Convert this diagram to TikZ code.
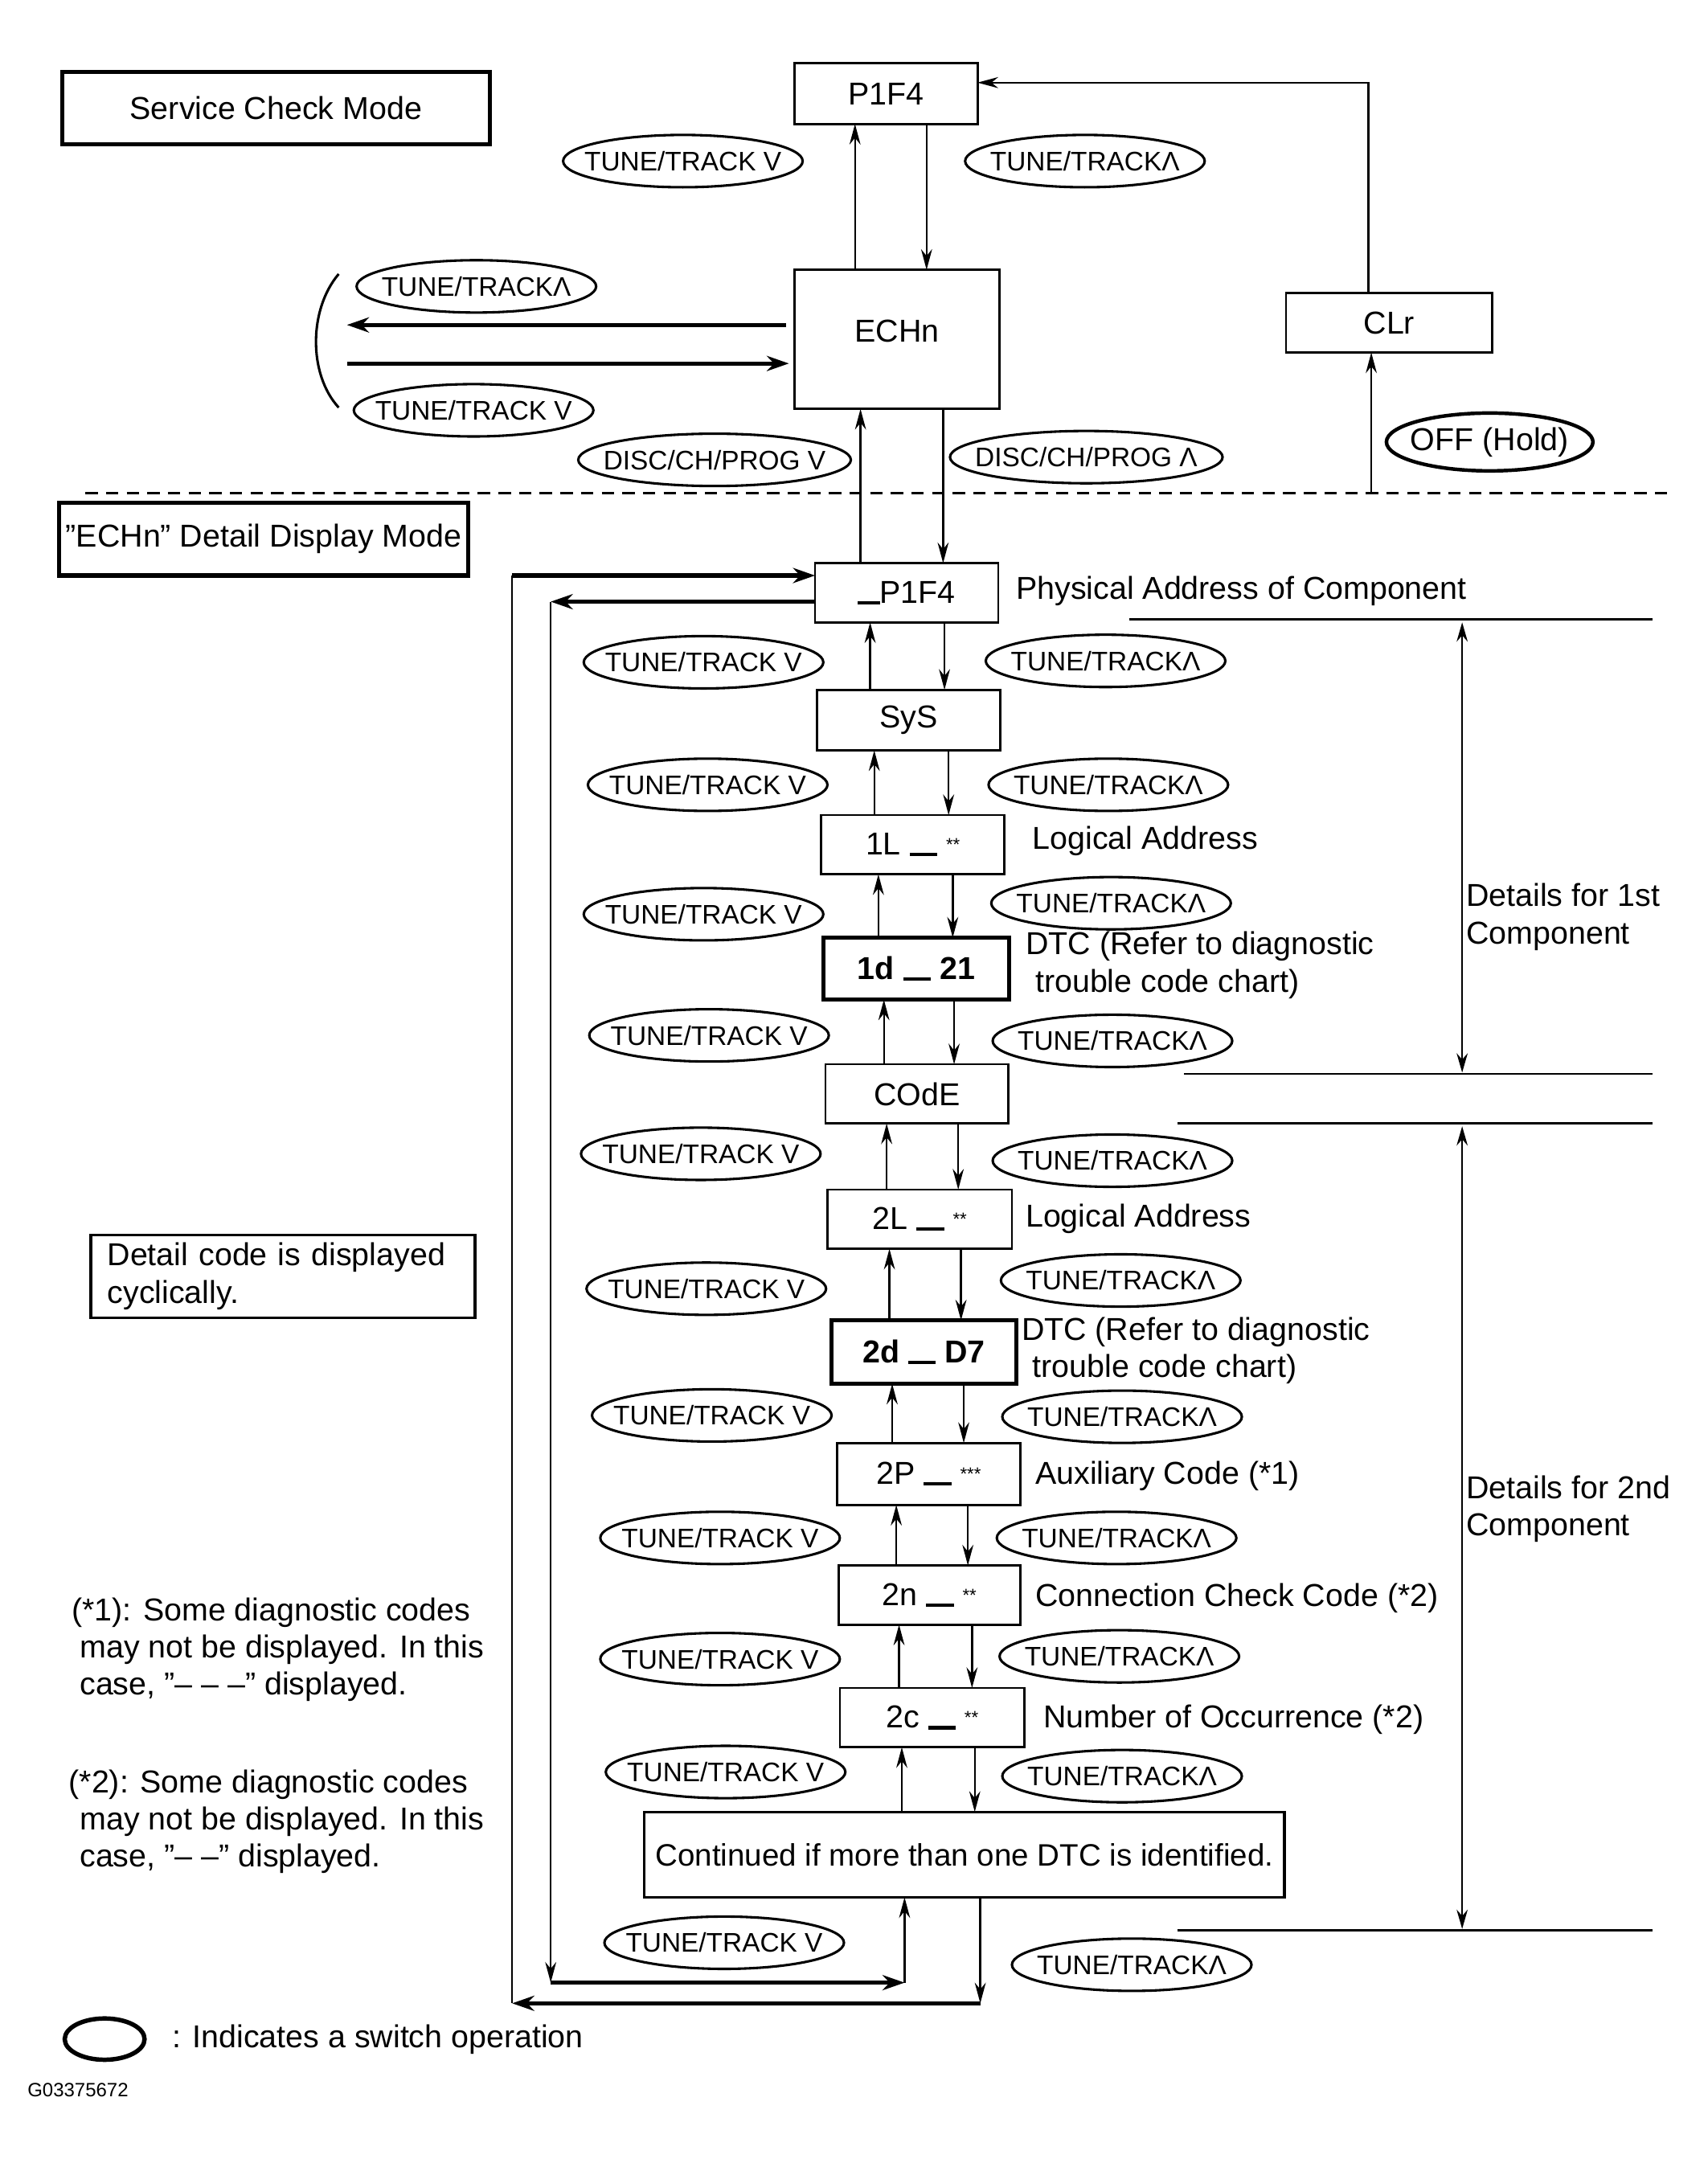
\documentclass[tikz,border=0pt]{standalone}
\usepackage{fontspec}
\setmainfont{Liberation Sans}
\usetikzlibrary{arrows.meta,shapes.geometric}
\newcommand{\ubar}{\rule[-1pt]{20pt}{2.5pt}}
\newcommand{\swnode}[4][174]{%
  \node[swt] (#2) at (#3) {#4};
  \draw[swl] (#2.center) ellipse [x radius={#1/2}, y radius=19];}
\begin{document}
\begin{tikzpicture}[x=1pt,y=-1pt,
  every node/.style={inner sep=0pt, outer sep=0pt},
  txt/.style={font=\fontsize{23}{27}\selectfont},
  lbl/.style={txt, anchor=west, align=left},
  codebox/.style={draw, line width=1.6pt, minimum width=133pt, minimum height=43pt, txt},
  boldbox/.style={codebox, line width=3pt, font=\fontsize{23}{27}\selectfont\bfseries},
  titlebox/.style={draw, line width=3pt, minimum height=53pt, txt},
  swt/.style={font=\fontsize{19.5}{22}\selectfont},
  swl/.style={line width=1.8pt},
  arr/.style={line width=1.4pt, -{Stealth[length=15pt,width=8pt]}},
  harr/.style={line width=3pt, -{Stealth[length=16pt,width=11pt]}},
  dim/.style={line width=1.4pt, {Stealth[length=14pt,width=8pt]}-{Stealth[length=14pt,width=8pt]}},
  rule/.style={line width=1.6pt},
]
\useasboundingbox[fill=white] (0,0) rectangle (1240,1571);

% ---------- Service check mode ----------
\node[titlebox, minimum width=311pt] (scm) at (200.5,78.5) {Service Check Mode};
\node[codebox, minimum height=44pt] (p1f4) at (643.5,68) {P1F4};
\node[codebox, minimum width=149pt, minimum height=101pt] (echn) at (651.5,246.5) {\raisebox{12pt}{ECHn}};
\node[codebox, minimum width=150pt] (clr) at (1009,234.5) {CLr};

\swnode{e1}{496,117}{TUNE/TRACK V}
\swnode{e2}{788,117}{TUNE/TRACKΛ}
\swnode{e3}{346,208}{TUNE/TRACKΛ}
\swnode{e4}{344,298}{TUNE/TRACK V}
\swnode[198]{e5}{519,334}{DISC/CH/PROG V}
\swnode[198]{e6}{789,332}{DISC/CH/PROG Λ}
\node[txt] (off) at (1082,321) {OFF (Hold)};
\draw[line width=2.6pt] (off.center) ellipse [x radius=75, y radius=21];

\draw[arr] (echn.north -| 621,0) -- (p1f4.south -| 621,0);
\draw[arr] (p1f4.south -| 673,0) -- (echn.north -| 673,0);
\draw[arr] (clr.north -| 994,0) |- (p1f4.east |- 0,60);
\coordinate (offbase) at (996,358);
\draw[arr] (offbase) -- (clr.south -| offbase);
\coordinate (bl1) at (252,236);
\coordinate (bl2) at (252,264);
\draw[harr, shorten <=6pt] (echn.west |- bl1) -- (bl1);
\draw[harr, shorten >=4pt] (bl2) -- (echn.west |- bl2);
\draw[line width=1.8pt] (246,199) .. controls (224,225) and (224,272) .. (246,296);

\draw[line width=1.6pt, dash pattern=on 9pt off 6pt] (62,358) -- (1215,358);

% ---------- Detail display mode ----------
\node[titlebox, minimum width=297pt] (ddm) at (191.5,391.5) {”ECHn” Detail Display Mode};

\node[codebox] (p1f4b) at (658.5,430.5) {\rule[-1pt]{16pt}{2.5pt}P1F4};
\node[codebox, minimum height=44pt] (sys) at (660,523) {SyS};
\node[codebox] (l1) at (663,613.5) {1L \ubar{} \raisebox{3pt}{\fontsize{13}{13}\selectfont **}};
\node[boldbox, minimum width=135pt, minimum height=45pt] (d1) at (665.5,703.5) {1d \ubar{} 21};
\node[codebox] (code) at (666,794.5) {COdE};
\node[codebox, minimum width=134pt] (l2) at (668,885.5) {2L \ubar{} \raisebox{3pt}{\fontsize{13}{13}\selectfont **}};
\node[boldbox, minimum width=134pt, minimum height=46pt] (d2) at (671,982) {2d \ubar{} D7};
\node[codebox, minimum height=45pt] (p2) at (674.5,1070.5) {2P \ubar{} \raisebox{3pt}{\fontsize{13}{13}\selectfont ***}};
\node[codebox, minimum width=132pt] (n2) at (675,1158.5) {2n \ubar{} \raisebox{3pt}{\fontsize{13}{13}\selectfont **}};
\node[codebox, minimum width=134pt] (c2) at (677,1247.5) {2c \ubar{} \raisebox{3pt}{\fontsize{13}{13}\selectfont **}};
\node[codebox, line width=2pt, minimum width=465pt, minimum height=62pt, font=\fontsize{22.5}{27}\selectfont] (cont) at (700.5,1347) {Continued if more than one DTC is identified.};

\draw[arr] (p1f4b.north -| 625,0) -- (echn.south -| 625,0);
\draw[arr] (echn.south -| 685,0) -- (p1f4b.north -| 685,0);

\foreach \a/\b/\l/\r in {p1f4b/sys/632/686, sys/l1/635/689, l1/d1/638/692, d1/code/642/693, code/l2/644/696, l2/d2/646/698, d2/p2/648/700, p2/n2/651/703, n2/c2/653/706, c2/cont/655/708}{
  \draw[arr] (\b.north -| \l,0) -- (\a.south -| \l,0);
  \draw[arr] (\a.south -| \r,0) -- (\b.north -| \r,0);
}

\foreach \lx/\ly/\rx/\ry [count=\i] in {511/481/803/480, 514/570/805/570, 511/664/807/656, 515/752/808/756, 509/838/808/843, 513/936/814/930, 517/1028/815/1029, 523/1117/811/1117, 523/1205/813/1203, 527/1287/815/1290, 526/1411/822/1427}{
  \swnode{dn\i}{\lx,\ly}{TUNE/TRACK V}
  \swnode{up\i}{\rx,\ry}{TUNE/TRACKΛ}
}

% loops
\coordinate (or) at (712,1455);
\coordinate (ol) at (372,1455);
\coordinate (ot) at (372,418);
\draw[arr] (cont.south -| or) -- (or);
\draw[harr] (or) -- (ol);
\draw[line width=1.4pt] (ol) -- (ot);
\draw[harr] (ot) -- (p1f4b.west |- ot);
\coordinate (it) at (400,437);
\coordinate (ib) at (400,1440);
\coordinate (ibr) at (657,1440);
\draw[harr] (p1f4b.west |- it) -- (it);
\draw[arr] (it) -- (ib);
\draw[harr] (ib) -- (ibr);
\draw[arr] (ibr) -- (cont.south -| ibr);

% side labels
\node[lbl] (la0) at (738,429) {Physical Address of Component};
\node[lbl] (la1) at (750,611) {Logical Address};
\node[lbl] (la2) at (745,701) {DTC (Refer to diagnostic\\\hspace*{7pt}trouble code chart)};
\node[lbl] (la3) at (745,885) {Logical Address};
\node[lbl] (la4) at (742,981) {DTC (Refer to diagnostic\\\hspace*{8pt}trouble code chart)};
\node[lbl] (la5) at (752,1072) {Auxiliary Code (*1)};
\node[lbl] (la6) at (752,1161) {Connection Check Code (*2)};
\node[lbl] (la7) at (758,1249) {Number of Occurrence (*2)};

% right brackets
\coordinate (a1) at (1062,452);
\coordinate (a2) at (1062,779);
\coordinate (a3) at (1062,818);
\coordinate (a4) at (1062,1401);
\draw[rule] (820,450) -- (1200,450);
\draw[rule] (860,780) -- (1200,780);
\draw[rule] (855,816) -- (1200,816);
\draw[rule] (855,1402) -- (1200,1402);
\draw[dim] (a1) -- (a2);
\draw[dim] (a3) -- (a4);
\node[lbl] (det1) at (1065,666) {Details for 1st\\Component};
\node[lbl] (det2) at (1065,1096) {Details for 2nd\\Component};

% left notes
\node[draw, line width=2pt, minimum width=279pt, minimum height=60pt, inner xsep=12pt, text width=255pt, align=left, txt] (cyc) at (205.5,927) {Detail code is displayed\\cyclically.};
\node[lbl] (n1) at (52,1198) {(*1): Some diagnostic codes\\\hspace*{6pt}may not be displayed. In this\\\hspace*{6pt}case, ”– – –” displayed.};
\node[lbl] (n2n) at (50,1323) {(*2): Some diagnostic codes\\\hspace*{8pt}may not be displayed. In this\\\hspace*{8pt}case, ”– –” displayed.};

% legend
\node[minimum width=58pt, minimum height=30pt] (leg) at (76,1481) {};
\draw[line width=3.2pt] (leg.center) ellipse [x radius=29, y radius=15];
\node[lbl] (legt) at (125,1481) {: Indicates a switch operation};
\node[anchor=west, font=\fontsize{14}{16}\selectfont] (gid) at (20,1518) {G03375672};
\end{tikzpicture}
\end{document}
